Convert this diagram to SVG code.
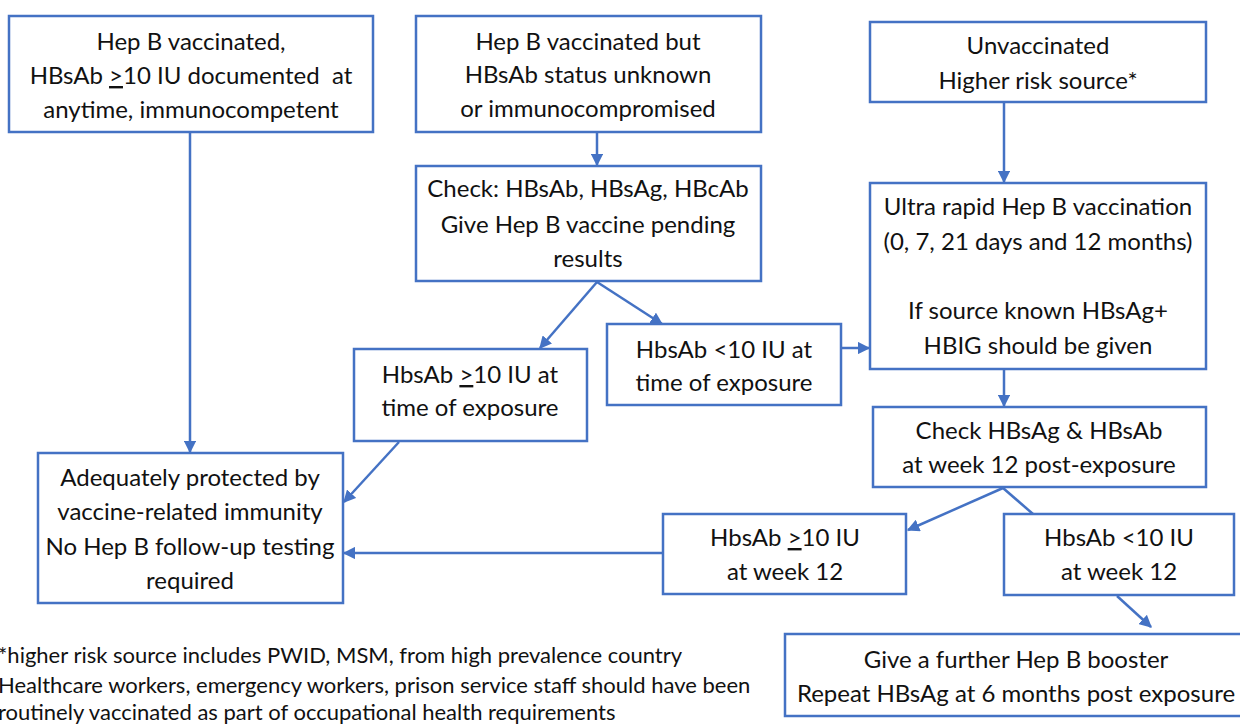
<svg xmlns="http://www.w3.org/2000/svg" width="1240" height="724" viewBox="0 0 1240 724">
<style>
.box{fill:#fff;stroke:#4472C4;stroke-width:2.5}
.t{font-family:Lato,"Open Sans",sans-serif;font-size:24px;fill:#111;text-anchor:middle}
.fn{font-family:Lato,"Open Sans",sans-serif;font-size:22px;fill:#111}
.c{stroke:#4472C4;stroke-width:2.5;fill:none}
.a{marker-end:url(#ah)}
</style>
<defs>
<marker id="ah" viewBox="0 0 10 10" refX="9" refY="5" markerWidth="5" markerHeight="5" orient="auto" markerUnits="strokeWidth">
<path d="M0,0 L10,5 L0,10 z" fill="#4472C4"/>
</marker>
</defs>
<rect width="1240" height="724" fill="#fff"/>
<g id="connectors">
<line class="c a" x1="190" y1="132" x2="190" y2="452"/>
<line class="c a" x1="597" y1="132" x2="597" y2="165"/>
<line class="c a" x1="1004" y1="102" x2="1004" y2="182"/>
<line class="c a" x1="1004" y1="369" x2="1004" y2="406"/>
<line class="c a" x1="597" y1="282" x2="540" y2="348"/>
<line class="c a" x1="597" y1="282" x2="662" y2="324"/>
<line class="c a" x1="841" y1="348" x2="869" y2="348"/>
<line class="c a" x1="399" y1="442" x2="344" y2="502"/>
<line class="c a" x1="1003" y1="488" x2="908" y2="530"/>
<line class="c" x1="1003" y1="488" x2="1033" y2="514"/>
<line class="c a" x1="1117" y1="596" x2="1151" y2="627"/>
<line class="c a" x1="663" y1="553" x2="344" y2="553"/>
</g>
<g id="n1">
<rect class="box" x="9" y="16" width="364" height="116"/>
<text class="t" x="191" y="50">Hep B vaccinated,</text>
<text class="t" x="191" y="84" xml:space="preserve">HBsAb <tspan text-decoration="underline">&gt;</tspan>10 IU documented  at</text>
<text class="t" x="191" y="118">anytime, immunocompetent</text>
</g>
<g id="n2">
<rect class="box" x="416" y="16" width="345" height="116"/>
<text class="t" x="588" y="50">Hep B vaccinated but</text>
<text class="t" x="588" y="83">HBsAb status unknown</text>
<text class="t" x="588" y="117">or immunocompromised</text>
</g>
<g id="n3">
<rect class="box" x="416" y="166" width="345" height="115"/>
<text class="t" x="588" y="197">Check: HBsAb, HBsAg, HBcAb</text>
<text class="t" x="588" y="233">Give Hep B vaccine pending</text>
<text class="t" x="588" y="267">results</text>
</g>
<g id="n4">
<rect class="box" x="870" y="22" width="336" height="80"/>
<text class="t" x="1038" y="54">Unvaccinated</text>
<text class="t" x="1038" y="89">Higher risk source*</text>
</g>
<g id="n5">
<rect class="box" x="870" y="183" width="336" height="186"/>
<text class="t" x="1038" y="215">Ultra rapid Hep B vaccination</text>
<text class="t" x="1038" y="250">(0, 7, 21 days and 12 months)</text>
<text class="t" x="1038" y="319">If source known HBsAg+</text>
<text class="t" x="1038" y="354">HBIG should be given</text>
</g>
<g id="n6">
<rect class="box" x="873" y="407" width="333" height="80"/>
<text class="t" x="1039" y="439">Check HBsAg &amp; HBsAb</text>
<text class="t" x="1039" y="473">at week 12 post-exposure</text>
</g>
<g id="n7">
<rect class="box" x="354" y="349" width="233" height="92"/>
<text class="t" x="470" y="383">HbsAb <tspan text-decoration="underline">&gt;</tspan>10 IU at</text>
<text class="t" x="470" y="416">time of exposure</text>
</g>
<g id="n8">
<rect class="box" x="607" y="324" width="234" height="81"/>
<text class="t" x="724" y="358">HbsAb &lt;10 IU at</text>
<text class="t" x="724" y="391">time of exposure</text>
</g>
<g id="n9">
<rect class="box" x="38" y="453" width="305" height="150"/>
<text class="t" x="190" y="486">Adequately protected by</text>
<text class="t" x="190" y="520">vaccine-related immunity</text>
<text class="t" x="190" y="555">No Hep B follow-up testing</text>
<text class="t" x="190" y="589">required</text>
</g>
<g id="n10">
<rect class="box" x="663" y="514" width="243" height="80"/>
<text class="t" x="785" y="546">HbsAb <tspan text-decoration="underline">&gt;</tspan>10 IU</text>
<text class="t" x="785" y="580">at week 12</text>
</g>
<g id="n11">
<rect class="box" x="1004" y="514" width="230" height="81"/>
<text class="t" x="1119" y="546">HbsAb &lt;10 IU</text>
<text class="t" x="1119" y="580">at week 12</text>
</g>
<g id="n12">
<rect class="box" x="785" y="634" width="460" height="82"/>
<text class="t" x="1016" y="668">Give a further Hep B booster</text>
<text class="t" x="1016" y="702">Repeat HBsAg at 6 months post exposure</text>
</g>
<g id="footnote">
<text class="fn" x="-2" y="663">*higher risk source includes PWID, MSM, from high prevalence country</text>
<text class="fn" x="-2" y="693">Healthcare workers, emergency workers, prison service staff should have been</text>
<text class="fn" x="-2" y="720">routinely vaccinated as part of occupational health requirements</text>
</g>
</svg>
